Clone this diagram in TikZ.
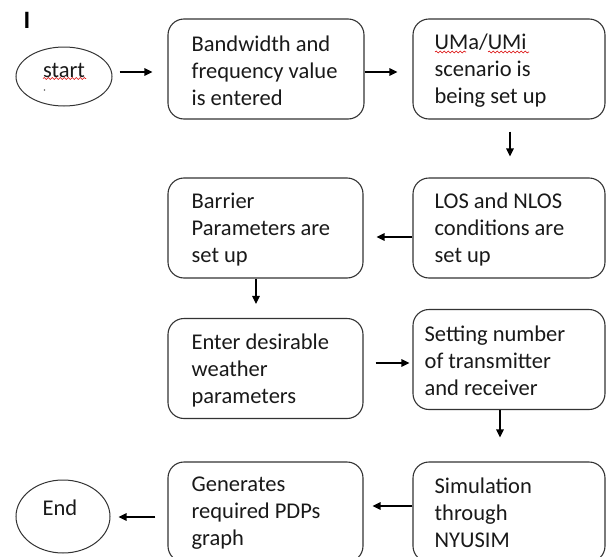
\documentclass[tikz,border=0pt]{standalone}
\usepackage{fontspec}
\setmainfont{Carlito}
\usetikzlibrary{arrows.meta,shapes.geometric,decorations.pathmorphing,calc}
\begin{document}
\begin{tikzpicture}[x=1pt,y=-1pt,
 box/.style={draw=black!80, line width=1.1pt, rounded corners=16pt, minimum height=100pt, inner sep=0pt},
 oval/.style={draw=black!80, line width=1pt, ellipse, inner sep=0pt},
 txt/.style={anchor=west, align=left, font=\fontsize{22.5}{27}\selectfont, inner sep=0pt, text=black!90},
 arr/.style={line width=1.2pt, -{Triangle[length=8pt,width=7.5pt]}},
 squig/.style={red!85!black, line width=0.6pt, decorate, decoration={snake, amplitude=0.9pt, segment length=4pt}}
]
\useasboundingbox (0,0) rectangle (606,557);
\clip (0,0) rectangle (606,557);

% stray mark
\node[font=\fontsize{25}{25}\selectfont\bfseries, inner sep=0pt] (mark) at (27,20) {I};

% ellipses
\node[oval, minimum width=96pt, minimum height=59pt] (start) at (64,76.5) {};
\node[oval, minimum width=94pt, minimum height=73pt] (end) at (63,516.5) {};
\node[txt, anchor=center] (starttext) at (64,70) {start};
\node[txt, anchor=center] (endtext) at (60,508) {End};
\fill[black!60] (44.5,90) circle (0.8pt);
\draw[squig] (43,78.5) -- (86,78.5);

% boxes
\node[box, minimum width=196pt] (b1) at (266,69) {};
\node[box, minimum width=192pt] (b2) at (509,69) {};
\node[box, minimum width=195pt] (b4) at (265.5,228) {};
\node[box, minimum width=192pt] (b3) at (509,228) {};
\node[box, minimum width=195pt] (b5) at (265.5,368.5) {};
\node[box, minimum width=192pt] (b6) at (509,359.5) {};
\node[box, minimum width=195pt] (b8) at (265.5,512) {};
\node[box, minimum width=192pt] (b7) at (509,512) {};

% texts
\node[txt] (t1) at ([xshift=24pt,yshift=-1.5pt]b1.west) {Bandwidth and\\frequency value\\is entered};
\node[txt] (t2) at ([xshift=22pt,yshift=-1.5pt]b2.west) {UMa/UMi\\scenario is\\being set up};
\node[txt] (t3) at ([xshift=22pt,yshift=-1.5pt]b3.west) {LOS and NLOS\\conditions are\\set up};
\node[txt] (t4) at ([xshift=24pt,yshift=-1.5pt]b4.west) {Barrier\\Parameters are\\set up};
\node[txt] (t5) at ([xshift=24pt,yshift=-1.5pt]b5.west) {Enter desirable\\weather\\parameters};
\node[txt] (t6) at ([xshift=12pt,yshift=-1.5pt]b6.west) {Setting number\\of transmitter\\and receiver};
\node[txt] (t7) at ([xshift=22pt,yshift=-0.5pt]b7.west) {Simulation\\through\\NYUSIM};
\node[txt] (t8) at ([xshift=24pt,yshift=-1.5pt]b8.west) {Generates\\required PDPs\\graph};

\draw[squig] (435,52) -- (466,52);
\draw[squig] (488,52) -- (529,52);

% arrows
\draw[arr] ([xshift=7pt,yshift=4.5pt]start.east) -- ([xshift=-15pt,yshift=-3pt]b1.west);
\draw[arr] ([yshift=-3pt]b1.east) -- ([xshift=-15pt,yshift=-3pt]b2.west);
\draw[arr] ([xshift=1pt,yshift=-12pt]b2.south) -- ([xshift=1pt,yshift=21pt]b3.north);
\draw[arr] ([yshift=-9pt]b3.west) -- ([xshift=13pt,yshift=-9pt]b4.east);
\draw[arr] ([xshift=-9.5pt]b4.south) -- ([xshift=-9.5pt,yshift=14pt]b5.north);
\draw[arr] ([xshift=12pt,yshift=5.5pt]b5.east) -- ([xshift=-3pt,yshift=-3.5pt]b6.west);
\draw[arr] ([xshift=-9pt]b6.south) -- ([xshift=-9pt,yshift=24pt]b7.north);
\draw[arr] ([yshift=6pt]b7.west) -- ([xshift=9pt,yshift=6pt]b8.east);
\draw[arr] ([xshift=-12pt,yshift=-5pt]b8.west) -- ([xshift=8pt,yshift=-0.5pt]end.east);
\end{tikzpicture}
\end{document}
